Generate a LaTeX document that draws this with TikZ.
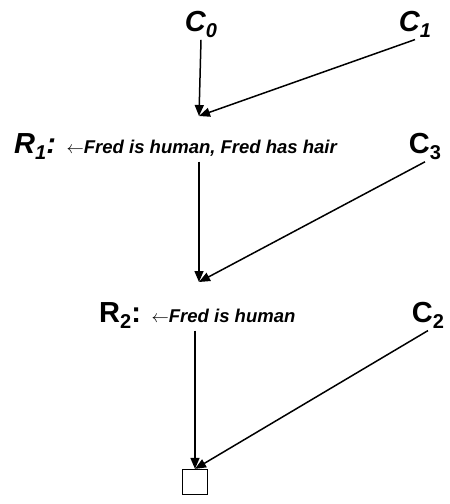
\documentclass[tikz,border=0pt]{standalone}
\usepackage{fontspec}
\setmainfont{Liberation Sans}
\usetikzlibrary{arrows.meta}
\newcommand{\lowsub}[1]{\raisebox{-0.22em}{\fontsize{20}{21}\selectfont #1}}
\newcommand{\goalfont}{\fontsize{18.5}{20}\selectfont\bfseries\itshape}
\tikzset{
  clause/.style={inner sep=2pt,anchor=base,font=\fontsize{29}{31}\selectfont\bfseries},
  resolvent/.style={inner sep=2pt,anchor=base west,font=\fontsize{29}{31}\selectfont\bfseries},
  res/.style={-{Triangle[length=11pt,width=9pt]},line width=1.5pt}
}

\begin{document}
\begin{tikzpicture}[x=1pt,y=-1pt]
  \useasboundingbox (0,0) rectangle (450,504);

  % top clauses
  \node[clause] (c0) at (201,31) {\itshape C\lowsub{0}};
  \node[clause] (c1) at (415,31) {\itshape C\lowsub{1}};
  \coordinate (j1) at (199,116);

  % first resolvent
  \node[resolvent] (r1) at (12,153) {\itshape R\lowsub{1}: {\goalfont $\leftarrow$Fred is human, Fred has hair}};
  \node[clause] (c3) at (425,153) {C\lowsub{3}};
  \coordinate (j2) at (199,282);

  % second resolvent
  \node[resolvent] (r2) at (97,322) {R\lowsub{2}: {\goalfont $\leftarrow$Fred is human}};
  \node[clause] (c2) at (428,322) {C\lowsub{2}};

  % empty clause
  \node[draw,line width=1.2pt,minimum size=25pt,inner sep=0pt] (box) at (195,482) {};

  \draw[res] (c0.south) -- (j1);
  \draw[res] (c1.south) -- (j1);
  \draw[res] (r1.south -| j2) -- (j2);
  \draw[res] (c3.south) -- (j2);
  \draw[res] (r2.south -| box) -- (box.north);
  \draw[res] (c2.south) -- (box.north);
\end{tikzpicture}
\end{document}
